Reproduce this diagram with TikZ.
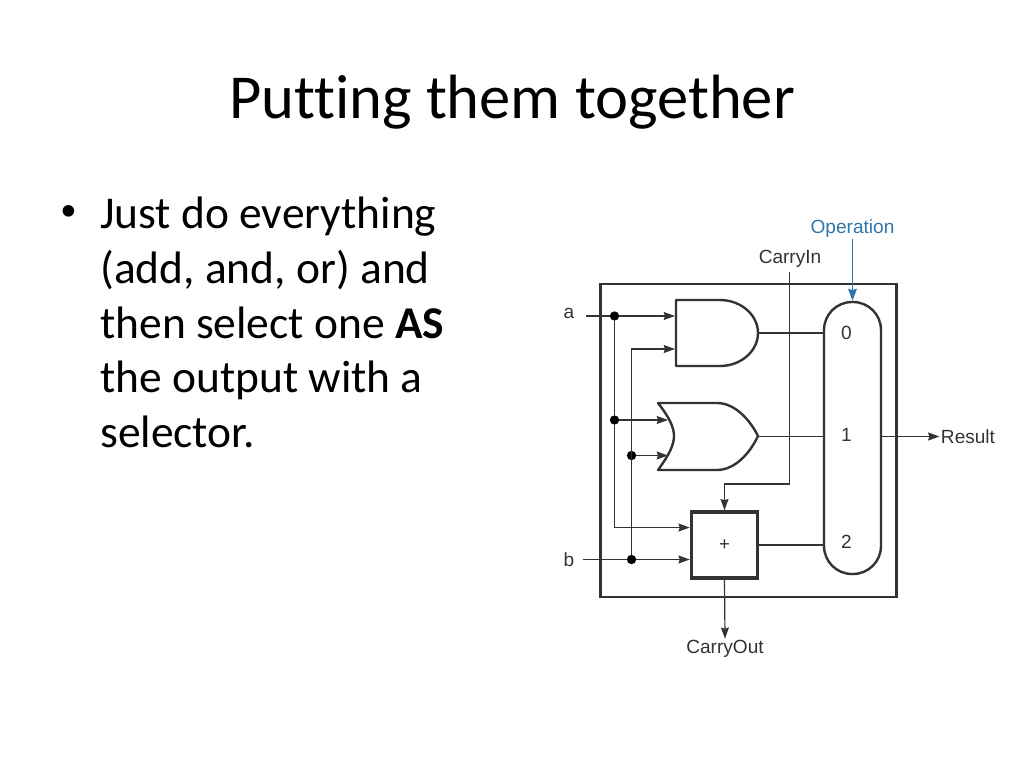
\documentclass[tikz,border=0pt]{standalone}
\usepackage{fontspec}
\setmainfont[Ligatures=NoCommon]{Carlito}
\newfontfamily\labelfont{Liberation Sans}
\usetikzlibrary{positioning, arrows.meta}
\definecolor{wireCol}{HTML}{333333}
\definecolor{opCol}{HTML}{2E75A8}

\begin{document}
\begin{tikzpicture}[
    x=0.75pt, y=-0.75pt,
    % Node styles
    title/.style={
        font=\fontsize{46.9}{56}\selectfont,
        text=black,
        inner sep=0pt
    },
    bodytext/.style={
        font=\fontsize{34.1}{41}\selectfont,
        text=black,
        align=left,
        anchor=north west,
        inner sep=0pt
    },
    lbl/.style={
        font=\labelfont\fontsize{14.3}{16}\selectfont,
        text=wireCol,
        inner sep=1pt
    },
    frame/.style={
        rectangle,
        draw=wireCol,
        line width=1.7pt,
        minimum width=222pt,
        minimum height=235pt
    },
    adderbox/.style={
        rectangle,
        draw=wireCol,
        line width=2.6pt,
        minimum size=49.5pt,
        font=\labelfont\fontsize{14}{14}\selectfont,
        text=wireCol
    },
    muxbox/.style={
        rectangle,
        rounded corners=21pt,
        draw=wireCol,
        line width=1.8pt,
        minimum width=42.75pt,
        minimum height=204pt
    },
    gate/.style={
        draw=wireCol,
        line width=1.8pt,
        line join=round
    },
    dot/.style={
        circle,
        fill=black,
        inner sep=0pt,
        minimum size=7pt
    },
    wire/.style={
        draw=wireCol,
        line width=0.9pt
    },
    arrow/.style={
        wire,
        -{Stealth[length=8.5pt,width=6pt,inset=1pt]}
    },
    oparrow/.style={
        draw=opCol,
        line width=0.9pt,
        -{Stealth[length=9pt,width=6.5pt,inset=1pt]}
    }
]
    \useasboundingbox (0,0) rectangle (1024,768);

    % ==== SLIDE TEXT ====
    \node[title] (heading) at (512,102) {Putting them together};
    \node[bodytext] (bullet) at (60,205) {\scalebox{0.72}{•}};
    \node[bodytext] (body) at (100,197) {Just do everything\\(add, and, or) and\\then select one \textbf{AS}\\the output with a\\selector.};

    % ==== FRAME AND BLOCKS ====
    \node[frame] (frame) at (748.5,440.5) {};
    \node[adderbox] (adder) at (724.5,545) {+};
    \node[muxbox] (mux) at (852.5,438) {};

    % AND gate
    \draw[gate] (676,300) -- (720,300) .. controls (741,300) and (758,315) .. (758,333)
        .. controls (758,351) and (741,366) .. (720,366) -- (676,366) -- cycle;
    % OR gate
    \draw[gate] (658,403) -- (717,403) .. controls (735,403) and (750,420) .. (758,436)
        .. controls (750,453) and (735,470) .. (717,470) -- (658,470)
        .. controls (669,455) and (674,445) .. (674,436)
        .. controls (674,427) and (669,417) .. (658,403) -- cycle;

    % gate ports
    \coordinate (andA) at (675,316);
    \coordinate (andB) at (675,349);
    \coordinate (andOut) at (758,333);
    \coordinate (orA) at (668,420);
    \coordinate (orB) at (668,455.5);
    \coordinate (orOut) at (758,436.5);

    % ==== LABELS ====
    \node[lbl] (a) at (569,313.5) {a};
    \node[lbl] (b) at (569,559.5) {b};
    \node[lbl] (carryin) at (790,259) {CarryIn};
    \node[lbl] (carryout) at (725,649) {CarryOut};
    \node[lbl] (result) at (968,437) {Result};
    \node[lbl, text=opCol] (operation) at (852.5,229) {Operation};
    \node[lbl] (sel0) at (846.5,333) {0};
    \node[lbl] (sel1) at (846.5,435) {1};
    \node[lbl] (sel2) at (846.5,542) {2};

    % ==== JUNCTIONS ====
    \node[dot] (aTop) at (614.5,316) {};
    \node[dot] (aMid) at (614.5,420) {};
    \node[dot] (bMid) at (631.5,455.5) {};
    \node[dot] (bLow) at (631.5,559.5) {};

    % Free ends
    \coordinate (aIn) at (586,316);
    \coordinate (bIn) at (583,559.5);
    \coordinate (ciTop) at (789.5,272);
    \coordinate (ciTurn) at (789.5,484);

    % ==== INPUT WIRES ====
    \draw[wire] (aIn) -- (aTop);
    \draw[wire] (bIn) -- (bLow);
    \draw[arrow] (aTop) -- (andA);
    \draw[arrow] (aMid) -- (orA);
    \draw[arrow] (bMid) -- (orB);
    \draw[arrow] (bLow) -- (bLow -| adder.west);
    \draw[wire] (aTop) -- (aMid);
    \draw[arrow] (aMid) |- ([yshift=13.1pt]adder.west);
    \draw[arrow] (bLow) |- (andB);

    % ==== CARRY ====
    \draw[arrow] (ciTop) -- (ciTurn) -| (adder.north);
    \draw[arrow] (adder.south) -- (carryout.north);

    % ==== TO SELECTOR ====
    \draw[wire] (andOut) -- (andOut -| mux.west);
    \draw[wire] (orOut) -- (orOut -| mux.west);
    \draw[wire] (adder.east) -- (adder.east -| mux.west);
    \draw[arrow] (orOut -| mux.east) -- (orOut -| result.west);
    \draw[oparrow] (operation.south) -- (mux.north);

\end{tikzpicture}
\end{document}
